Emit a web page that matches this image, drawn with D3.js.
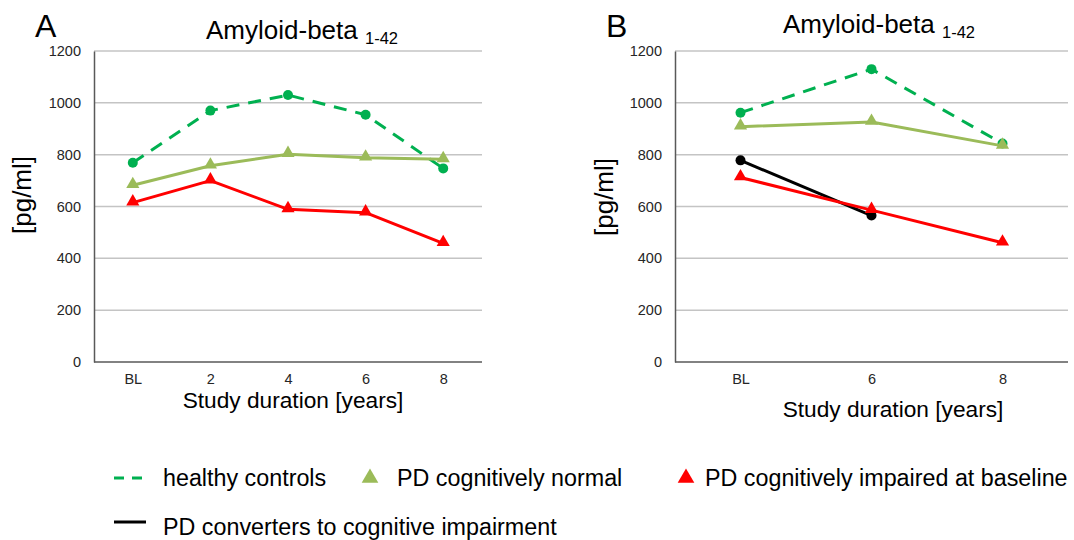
<!DOCTYPE html>
<html><head><meta charset="utf-8">
<script src="https://cdn.jsdelivr.net/npm/d3@7"></script>
<style>body{margin:0;background:#fff}svg{display:block;font-family:"Liberation Sans",Arial,sans-serif}</style>
</head><body>
<svg id="c" width="1074" height="540"></svg>
<script>
const catsA = ["BL","2","4","6","8"];
const catsB = ["BL","6","8"];
const yTicks = [0,200,400,600,800,1000,1200];
const healthyA = [769,970,1030,954,747];
const normalA = [682,757,802,788,782];
const impairedA = [615,700,589,576,458];
const healthyB = [962,1130,843];
const normalB = [908,926,834];
const impairedB = [712,586,460];
const convertersB = [778,565];
const legendLabels = ["healthy controls","PD cognitively normal","PD cognitively impaired at baseline","PD converters to cognitive impairment"];

const svg = d3.select("#c");
const C = {healthy:"#00B050", normal:"#9BBB59", impaired:"#FF0000", conv:"#000000"};
const FF = "Liberation Sans, Arial, sans-serif";

function panel(cfg){
  const x = d3.scalePoint().domain(cfg.cats).range([cfg.x0, cfg.x1]).padding(0.5);
  const y = d3.scaleLinear().domain([0,1200]).range([362,51]);
  const g = svg.append("g");
  g.selectAll("line.grid").data(yTicks.filter(d=>d>0)).join("line")
    .attr("x1",cfg.x0).attr("x2",cfg.x1).attr("y1",d=>y(d)).attr("y2",d=>y(d))
    .attr("stroke","#c4c4c4").attr("stroke-width",1.5);
  const ya = g.append("g").attr("transform",`translate(${cfg.x0},0)`)
    .call(d3.axisLeft(y).tickValues(yTicks).tickFormat(d3.format("d")).tickSize(0).tickPadding(13));
  ya.select(".domain").attr("stroke","#595959").attr("stroke-width",1.5);
  ya.selectAll("text").attr("font-size",14.5).attr("fill","#262626").attr("font-family",FF);
  const xa = g.append("g").attr("transform",`translate(0,362)`).call(d3.axisBottom(x).tickSize(0).tickPadding(12));
  xa.select(".domain").attr("stroke","#595959").attr("stroke-width",1.5).attr("d",`M${cfg.x0},0H${cfg.x1}`);
  xa.selectAll("text").attr("font-size",14.5).attr("fill","#262626").attr("font-family",FF);
  const t = g.append("text").attr("x",cfg.titleX).attr("y",cfg.titleY).attr("font-size",26).attr("fill","#000");
  t.append("tspan").text("Amyloid-beta ");
  t.append("tspan").attr("font-size",16.5).attr("dy",5).text("1-42");
  g.append("text").attr("x",cfg.letterX).attr("y",37).attr("font-size",32).text(cfg.letter);
  g.append("text").attr("transform",`translate(${cfg.ylabX},${cfg.ylabY}) rotate(-90)`).attr("text-anchor","middle")
    .attr("font-size",26).text("[pg/ml]");
  g.append("text").attr("x",cfg.xlabX).attr("y",cfg.xlabY).attr("text-anchor","middle").attr("font-size",22.7).text("Study duration [years]");

  const line = d3.line().x((d,i)=>x(cfg.cats[i])).y(d=>y(d));
  const tri = d3.symbol().type(d3.symbolTriangle).size(75);
  function series(vals, color, dash, marker){
    g.append("path").datum(vals).attr("d",line).attr("fill","none").attr("stroke",color)
      .attr("stroke-width",3).attr("stroke-dasharray",dash||null).attr("stroke-linejoin","round");
    if(marker==="circle"){
      g.selectAll(null).data(vals).join("circle").attr("cx",(d,i)=>x(cfg.cats[i])).attr("cy",d=>y(d)).attr("r",5).attr("fill",color);
    } else {
      g.selectAll(null).data(vals).join("path").attr("d",tri).attr("transform",(d,i)=>`translate(${x(cfg.cats[i])},${y(d)-1})`).attr("fill",color);
    }
  }
  series(cfg.healthy, C.healthy, "13,9", "circle");
  series(cfg.normal, C.normal, null, "tri");
  if(cfg.conv) series(cfg.conv, C.conv, null, "circle");
  series(cfg.impaired, C.impaired, null, "tri");
}

panel({cats:catsA, x0:94, x1:482, healthy:healthyA, normal:normalA, impaired:impairedA,
  titleX:206, titleY:39, letter:"A", letterX:35, ylabX:31, ylabY:195, xlabX:293, xlabY:408});
panel({cats:catsB, x0:675, x1:1068, healthy:healthyB, normal:normalB, impaired:impairedB, conv:convertersB,
  titleX:783, titleY:33, letter:"B", letterX:606, ylabX:613, ylabY:197, xlabX:893, xlabY:417});

const lg = svg.append("g").attr("font-size",23.3);
lg.append("line").attr("x1",114).attr("x2",142).attr("y1",478).attr("y2",478).attr("stroke",C.healthy).attr("stroke-width",3).attr("stroke-dasharray","10,8");
lg.append("text").attr("x",163).attr("y",486).text(legendLabels[0]);
const tri2 = d3.symbol().type(d3.symbolTriangle).size(120);
lg.append("path").attr("d",tri2).attr("transform","translate(370,478)").attr("fill",C.normal);
lg.append("path").attr("d",tri2).attr("transform","translate(686,478)").attr("fill",C.impaired);
lg.append("text").attr("x",397).attr("y",486).text(legendLabels[1]);
lg.append("text").attr("x",705).attr("y",486).text(legendLabels[2]);
lg.append("line").attr("x1",114).attr("x2",146).attr("y1",522).attr("y2",522).attr("stroke",C.conv).attr("stroke-width",3);
lg.append("text").attr("x",163).attr("y",535).text(legendLabels[3]);
</script>
</body></html>
